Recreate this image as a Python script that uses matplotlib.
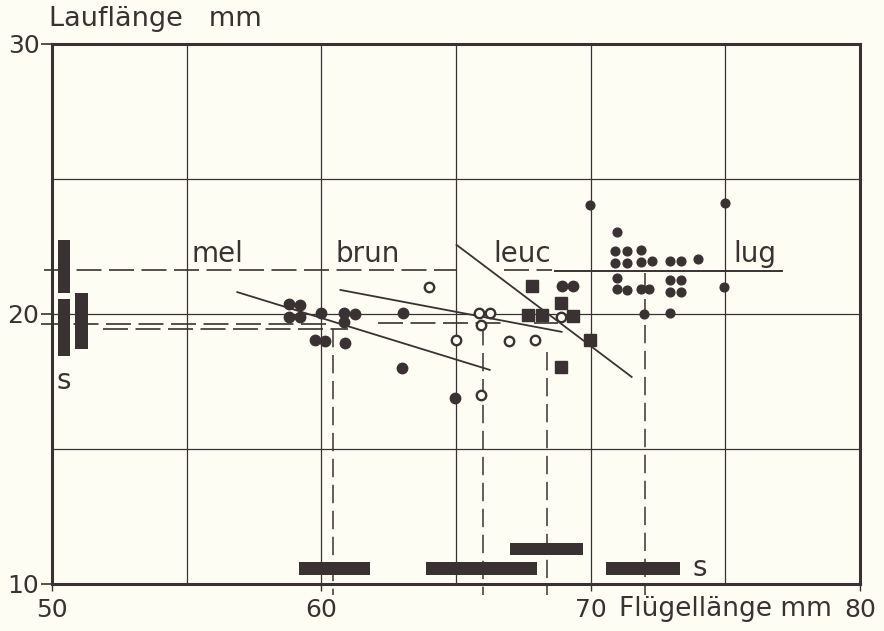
import matplotlib.pyplot as plt

plt.rcParams['font.family'] = ['DejaVu Sans']

ink = "#3a3232"
paper = "#fdfdf4"

# Punkte: dunkle Kreise (mel / brun)
mel_x = [58.81, 59.22, 58.81, 59.21, 59.99, 59.78, 60.15]
mel_y = [20.37, 20.33, 19.90, 19.90, 20.03, 19.04, 19.01]
brun_x = [60.86, 61.26, 60.86, 60.89, 63.02, 63.00, 64.98, 68.95, 69.34]
brun_y = [20.05, 20.00, 19.69, 18.94, 20.03, 18.01, 16.90, 21.04, 21.04]
# offene Kreise (leuc)
leuc_x = [63.98, 65.87, 66.28, 68.88, 65.91, 65.00, 66.96, 67.92, 65.91]
leuc_y = [21.01, 20.05, 20.05, 19.88, 19.58, 19.04, 19.01, 19.05, 17.00]
# Quadrate
quad_x = [67.82, 68.91, 67.67, 68.20, 69.34, 69.96, 68.91]
quad_y = [21.04, 20.40, 19.96, 19.96, 19.93, 19.04, 18.05]
# kleine Kreise (lug)
lug_x = [69.96, 74.98, 70.96, 70.90, 71.33, 70.90, 71.33, 71.85, 71.85, 72.26,
         72.94, 73.37, 73.99, 70.97, 70.97, 71.34, 71.86, 72.17,
         72.94, 73.37, 72.94, 73.37, 74.94, 71.97, 72.96]
lug_y = [24.04, 24.10, 23.03, 22.34, 22.34, 21.90, 21.90, 22.37, 21.94, 21.96,
         21.97, 21.97, 22.03, 21.33, 20.93, 20.89, 20.91, 20.91,
         21.26, 21.26, 20.83, 20.83, 20.99, 20.00, 20.05]

# Regressionsgeraden (x1, y1, x2, y2)
reg_lines = [(56.88, 20.81, 66.25, 17.93),
             (60.71, 20.89, 68.92, 19.34),
             (65.02, 22.56, 71.52, 17.67)]

# Mittelwerte: waagrecht gestrichelt (y, x von, x bis)
h_dash = [(21.63, 49.7, 65.0), (21.63, 66.8, 68.55),
          (19.63, 49.6, 60.3), (19.44, 51.9, 61.0),
          (19.65, 62.1, 66.8), (19.65, 67.9, 68.8)]
lug_mean = (21.6, 68.66, 77.1)
# senkrecht gestrichelt (x, y von, y bis)
v_dash = [(60.45, 19.44, 9.6), (66.0, 19.5, 9.6), (68.36, 18.6, 9.6), (72.0, 21.5, 9.6)]

# Standardabweichungen: senkrechte Balken (x mitte, breite, y unten, y oben)
v_bars = [(50.445, 0.43, 20.77, 22.74), (50.445, 0.43, 18.46, 20.56), (51.095, 0.47, 18.70, 20.77)]
# waagrechte Balken (y mitte, hoehe, x links, x rechts)
h_bars = [(10.565, 0.47, 59.18, 61.81), (10.565, 0.47, 63.89, 68.00),
          (11.295, 0.47, 67.01, 69.71), (10.565, 0.47, 70.58, 73.31)]

# Gruppennamen
group_names = ["mel", "brun", "leuc", "lug"]
group_name_x = [56.13, 61.71, 67.47, 76.1]

fig = plt.figure(figsize=(8.84, 6.31), dpi=100, facecolor=paper)
ax = fig.add_axes([0.0588, 0.0745, 0.9141, 0.8558], facecolor=paper)
ax.set_xlim(50, 80)
ax.set_ylim(10, 30)

for gx in [55, 60, 65, 70, 75]:
    ax.axvline(gx, color=ink, lw=0.9, zorder=1)
for gy in [15, 20, 25]:
    ax.axhline(gy, color=ink, lw=0.9, zorder=1)

for y, x1, x2 in h_dash:
    ax.plot([x1, x2], [y, y], color=ink, lw=1.2, ls=(0, (15, 4.5)), clip_on=False, zorder=2)
ax.plot([lug_mean[1], lug_mean[2]], [lug_mean[0], lug_mean[0]], color=ink, lw=1.4, zorder=2)
for x, y1, y2 in v_dash:
    ax.plot([x, x], [y1, y2], color=ink, lw=1.1, ls=(0, (12, 5)), clip_on=False, zorder=2)

for x1, y1, x2, y2 in reg_lines:
    ax.plot([x1, x2], [y1, y2], color=ink, lw=1.3, zorder=3)

for xc, w, y1, y2 in v_bars:
    ax.bar(xc, y2 - y1, w, bottom=y1, color=ink, zorder=3)
for yc, h, x1, x2 in h_bars:
    ax.barh(yc, x2 - x1, h, left=x1, color=ink, zorder=3)

ax.plot(mel_x, mel_y, 'o', ms=7.5, color=ink, mec=ink, zorder=4)
ax.plot(brun_x, brun_y, 'o', ms=7.5, color=ink, mec=ink, zorder=4)
ax.plot(leuc_x, leuc_y, 'o', ms=6.8, mfc=paper, mec=ink, mew=1.7, zorder=4)
ax.plot(quad_x, quad_y, 's', ms=8.5, color=ink, mec=ink, zorder=4)
ax.plot(lug_x, lug_y, 'o', ms=6.3, color=ink, mec=ink, zorder=4)

fs = 20
for name, gx in zip(group_names, group_name_x):
    ax.text(gx, 21.93, name, fontsize=fs, color=ink, ha='center', va='baseline')
ax.text(50.45, 17.5, "s", fontsize=fs, color=ink, ha='center', va='center')
ax.text(74.05, 10.6, "s", fontsize=fs, color=ink, ha='center', va='center')

ax.text(49.9, 30.45, "Lauflänge   mm", fontsize=19.5, color=ink, ha='left', va='bottom')
ax.text(71.05, 9.55, "Flügellänge mm", fontsize=19, color=ink, ha='left', va='top')

ax.set_xticks([50, 60, 70, 80])
ax.set_xticklabels(["50", "60", "70", "80"])
ax.set_yticks([10, 20, 30])
ax.set_yticklabels(["10", "20", "30"])
ax.tick_params(axis='x', length=5, width=1, colors=ink, labelsize=18, pad=5)
ax.tick_params(axis='y', length=8, width=1.2, colors=ink, labelsize=18, pad=1)

for sp in ax.spines.values():
    sp.set_color(ink)
    sp.set_linewidth(2.2)

fig.savefig("out.png", dpi=100, facecolor=paper)
